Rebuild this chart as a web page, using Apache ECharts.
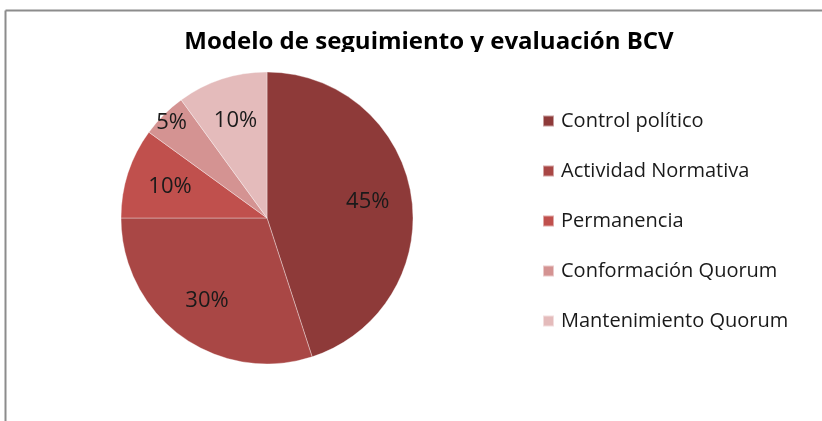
<!DOCTYPE html>
<html>
<head>
<meta charset="utf-8">
<script src="https://cdn.jsdelivr.net/npm/echarts@6/dist/echarts.min.js"></script>
<style>
html,body{margin:0;padding:0;background:#fff;}
#chart{width:822px;height:421px;}
</style>
</head>
<body>
<div id="chart"></div>
<script>
const titleText = 'Modelo de seguimiento y evaluación BCV';
const categories = ['Control político', 'Actividad Normativa', 'Permanencia', 'Conformación Quorum', 'Mantenimiento Quorum'];
const values = [45, 30, 10, 5, 10];
const colors = ['#8E3A39', '#A94745', '#C0504D', '#D49392', '#E4BBBB'];

const chart = echarts.init(document.getElementById('chart'), null, {renderer: 'canvas'});
const total = values.reduce((a, b) => a + b, 0);
const pct = v => Math.round(v / total * 100) + '%';

const mainData = categories.map((c, i) => ({name: c, value: values[i], itemStyle: {color: colors[i]}}));
const labelData = categories.map((c, i) => ({
  name: c, value: values[i],
  label: {show: values[i] / total >= 0.08}
}));
const smallLabelData = categories.map((c, i) => ({
  name: c, value: values[i],
  label: {show: values[i] / total < 0.08}
}));
const ghostCommon = {
  type: 'pie', center: [267, 218], startAngle: 90, clockwise: true,
  silent: true, legendHoverLink: false,
  itemStyle: {color: 'rgba(0,0,0,0)', borderWidth: 0},
  emphasis: {disabled: true},
  labelLine: {show: false},
  label: {
    position: 'inside',
    formatter: p => pct(p.value),
    fontFamily: 'Open Sans', fontSize: 22, color: '#1a1a1a'
  },
  animation: false
};

chart.setOption({
  animation: false,
  graphic: [
    {type: 'line', shape: {x1: 5.5, y1: 10.5, x2: 822, y2: 10.5}, style: {stroke: '#8c8c8c', lineWidth: 2}, z: 100},
    {type: 'line', shape: {x1: 5.5, y1: 10.5, x2: 5.5, y2: 421}, style: {stroke: '#8c8c8c', lineWidth: 2}, z: 100},
    {type: 'rect', shape: {x: 100, y: 52, width: 650, height: 19}, style: {fill: '#ffffff'}, z: 50}
  ],
  title: {
    text: titleText,
    left: 424, top: 25, textAlign: 'center',
    textStyle: {fontFamily: 'Open Sans', fontWeight: 'bold', fontSize: 24, color: '#000'}
  },
  legend: {
    orient: 'vertical',
    left: 542, top: 111, padding: 0,
    itemWidth: 11, itemHeight: 11, itemGap: 30,
    icon: 'rect',
    selectedMode: false,
    data: categories,
    textStyle: {fontFamily: 'Open Sans', fontSize: 20, color: '#1a1a1a', padding: [0, 0, 0, 2]}
  },
  series: [
    {
      type: 'pie', name: 'main', center: [267, 218], radius: [0, 146],
      startAngle: 90, clockwise: true,
      data: mainData,
      label: {show: false}, labelLine: {show: false},
      itemStyle: {borderColor: 'rgba(255,255,255,0.5)', borderWidth: 0.7},
      emphasis: {disabled: true},
      animation: false
    },
    Object.assign({}, ghostCommon, {name: 'labels', radius: [52, 146], data: labelData}),
    Object.assign({}, ghostCommon, {name: 'labelsSmall', radius: [118, 146], data: smallLabelData})
  ]
});
</script>
</body>
</html>
